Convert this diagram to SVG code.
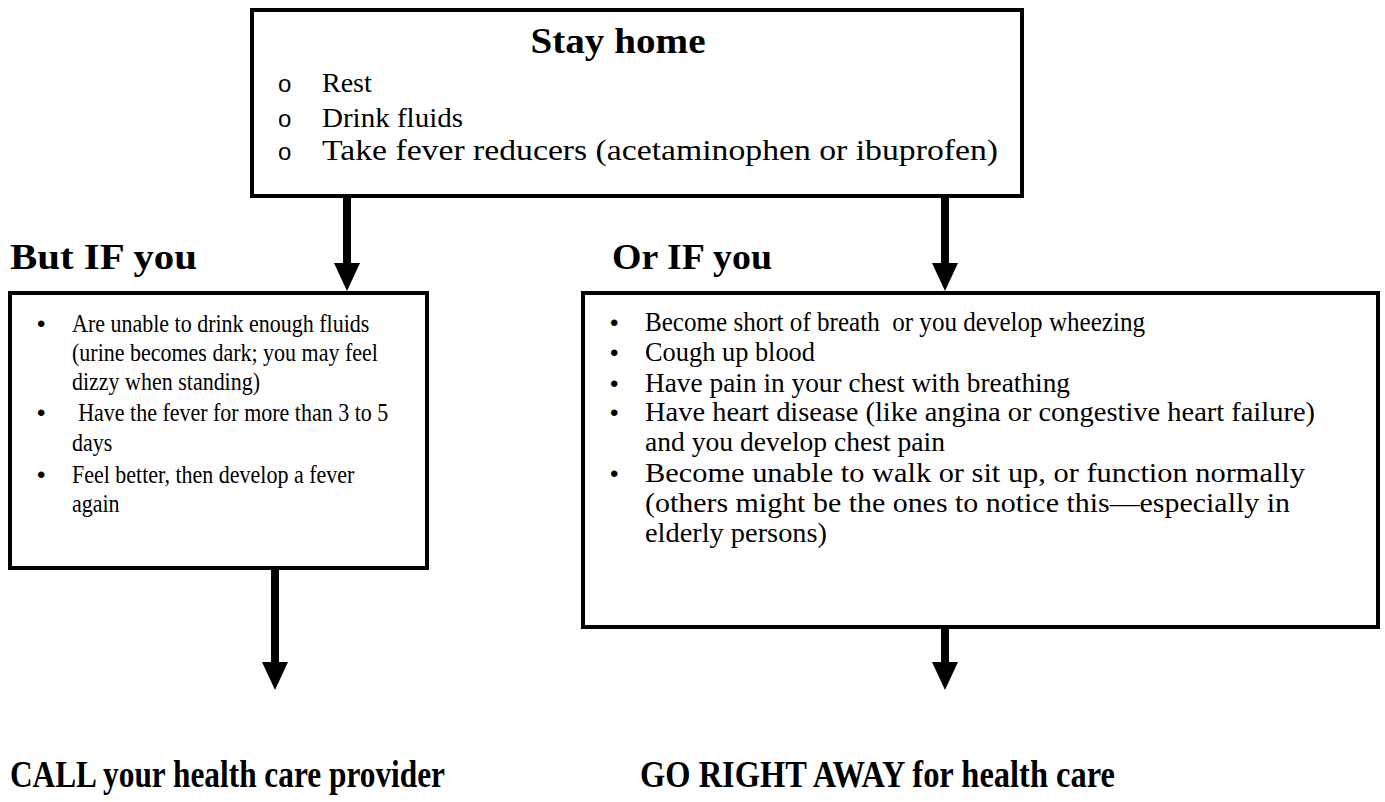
<svg xmlns="http://www.w3.org/2000/svg" width="1385" height="802" viewBox="0 0 1385 802">
<style>
.box{fill:#fff;stroke:#000;stroke-width:4}
.t{font-family:"Liberation Serif","Times New Roman",serif;font-size:25px;fill:#000}
.r{font-family:"Liberation Serif","Times New Roman",serif;font-size:28px;fill:#000}
.tt{font-family:"Liberation Serif","Times New Roman",serif;font-size:28px;fill:#000}
.h{font-family:"Liberation Serif","Times New Roman",serif;font-weight:bold;font-size:36px;fill:#000}
.f{font-family:"Liberation Serif","Times New Roman",serif;font-weight:bold;font-size:37px;fill:#000}
.o{font-family:"Liberation Sans",Arial,sans-serif;font-size:24px;fill:#000}
.b{font-family:"Liberation Sans",Arial,sans-serif;font-size:24px;fill:#000}
.shaft{stroke:#000;stroke-width:8;fill:none}
</style>
<defs>
<marker id="ah" markerUnits="userSpaceOnUse" markerWidth="28" markerHeight="26" viewBox="0 0 28 26" refX="8" refY="13" orient="auto">
<path d="M0,0 L28,13 L0,26 z" fill="#000"/>
</marker>
</defs>
<g id="connectors">
<line class="shaft" x1="347" y1="198" x2="347" y2="271" marker-end="url(#ah)"/>
<line class="shaft" x1="945" y1="198" x2="945" y2="271" marker-end="url(#ah)"/>
<line class="shaft" x1="275" y1="570" x2="275" y2="670" marker-end="url(#ah)"/>
<line class="shaft" x1="945" y1="629" x2="945" y2="670" marker-end="url(#ah)"/>
</g>
<g id="stay-home">
<rect class="box" x="252" y="10" width="770" height="186"/>
<text class="h" x="618" y="53" text-anchor="middle" textLength="175" lengthAdjust="spacingAndGlyphs">Stay home</text>
<text class="o" x="278" y="92">o</text>
<text class="o" x="278" y="127">o</text>
<text class="o" x="278" y="160">o</text>
<text class="tt" x="322" y="92">Rest</text>
<text class="tt" x="322" y="127" textLength="141" lengthAdjust="spacingAndGlyphs">Drink fluids</text>
<text class="tt" x="322" y="160" textLength="676" lengthAdjust="spacingAndGlyphs" style="font-size:30px">Take fever reducers (acetaminophen or ibuprofen)</text>
</g>
<g id="but-if">
<text class="h" x="10" y="269" textLength="187" lengthAdjust="spacingAndGlyphs">But IF you</text>
<rect class="box" x="10" y="293" width="417" height="275"/>
<text class="b" x="37" y="332">•</text>
<text class="b" x="37" y="421">•</text>
<text class="b" x="37" y="483">•</text>
<g transform="translate(72 0) scale(0.88 1)">
<text class="t" x="0" y="332">Are unable to drink enough fluids</text>
<text class="t" x="0" y="361">(urine becomes dark; you may feel</text>
<text class="t" x="0" y="390">dizzy when standing)</text>
<text class="t" x="7" y="421">Have the fever for more than 3 to 5</text>
<text class="t" x="0" y="451">days</text>
<text class="t" x="0" y="483">Feel better, then develop a fever</text>
<text class="t" x="0" y="512">again</text>
</g>
</g>
<g id="or-if">
<text class="h" x="612" y="269" textLength="160" lengthAdjust="spacingAndGlyphs">Or IF you</text>
<rect class="box" x="583" y="293" width="795" height="334"/>
<text class="b" x="610" y="331">•</text>
<text class="r" x="645" y="331" textLength="500" lengthAdjust="spacingAndGlyphs">Become short of breath&#160; or you develop wheezing</text>
<text class="b" x="610" y="361">•</text>
<text class="r" x="645" y="361" textLength="170" lengthAdjust="spacingAndGlyphs">Cough up blood</text>
<text class="b" x="610" y="392">•</text>
<text class="r" x="645" y="392" textLength="425" lengthAdjust="spacingAndGlyphs">Have pain in your chest with breathing</text>
<text class="b" x="610" y="421">•</text>
<text class="r" x="645" y="421" textLength="670" lengthAdjust="spacingAndGlyphs">Have heart disease (like angina or congestive heart failure)</text>
<text class="r" x="645" y="451" textLength="300" lengthAdjust="spacingAndGlyphs">and you develop chest pain</text>
<text class="b" x="610" y="482">•</text>
<text class="r" x="645" y="482" textLength="660" lengthAdjust="spacingAndGlyphs">Become unable to walk or sit up, or function normally</text>
<text class="r" x="645" y="512" textLength="645" lengthAdjust="spacingAndGlyphs">(others might be the ones to notice this—especially in</text>
<text class="r" x="645" y="542" textLength="182" lengthAdjust="spacingAndGlyphs">elderly persons)</text>
</g>
<g id="call-provider">
<text class="f" x="10" y="787" textLength="435" lengthAdjust="spacingAndGlyphs">CALL your health care provider</text>
</g>
<g id="go-right-away">
<text class="f" x="640" y="787" textLength="475" lengthAdjust="spacingAndGlyphs">GO RIGHT AWAY for health care</text>
</g>
</svg>
